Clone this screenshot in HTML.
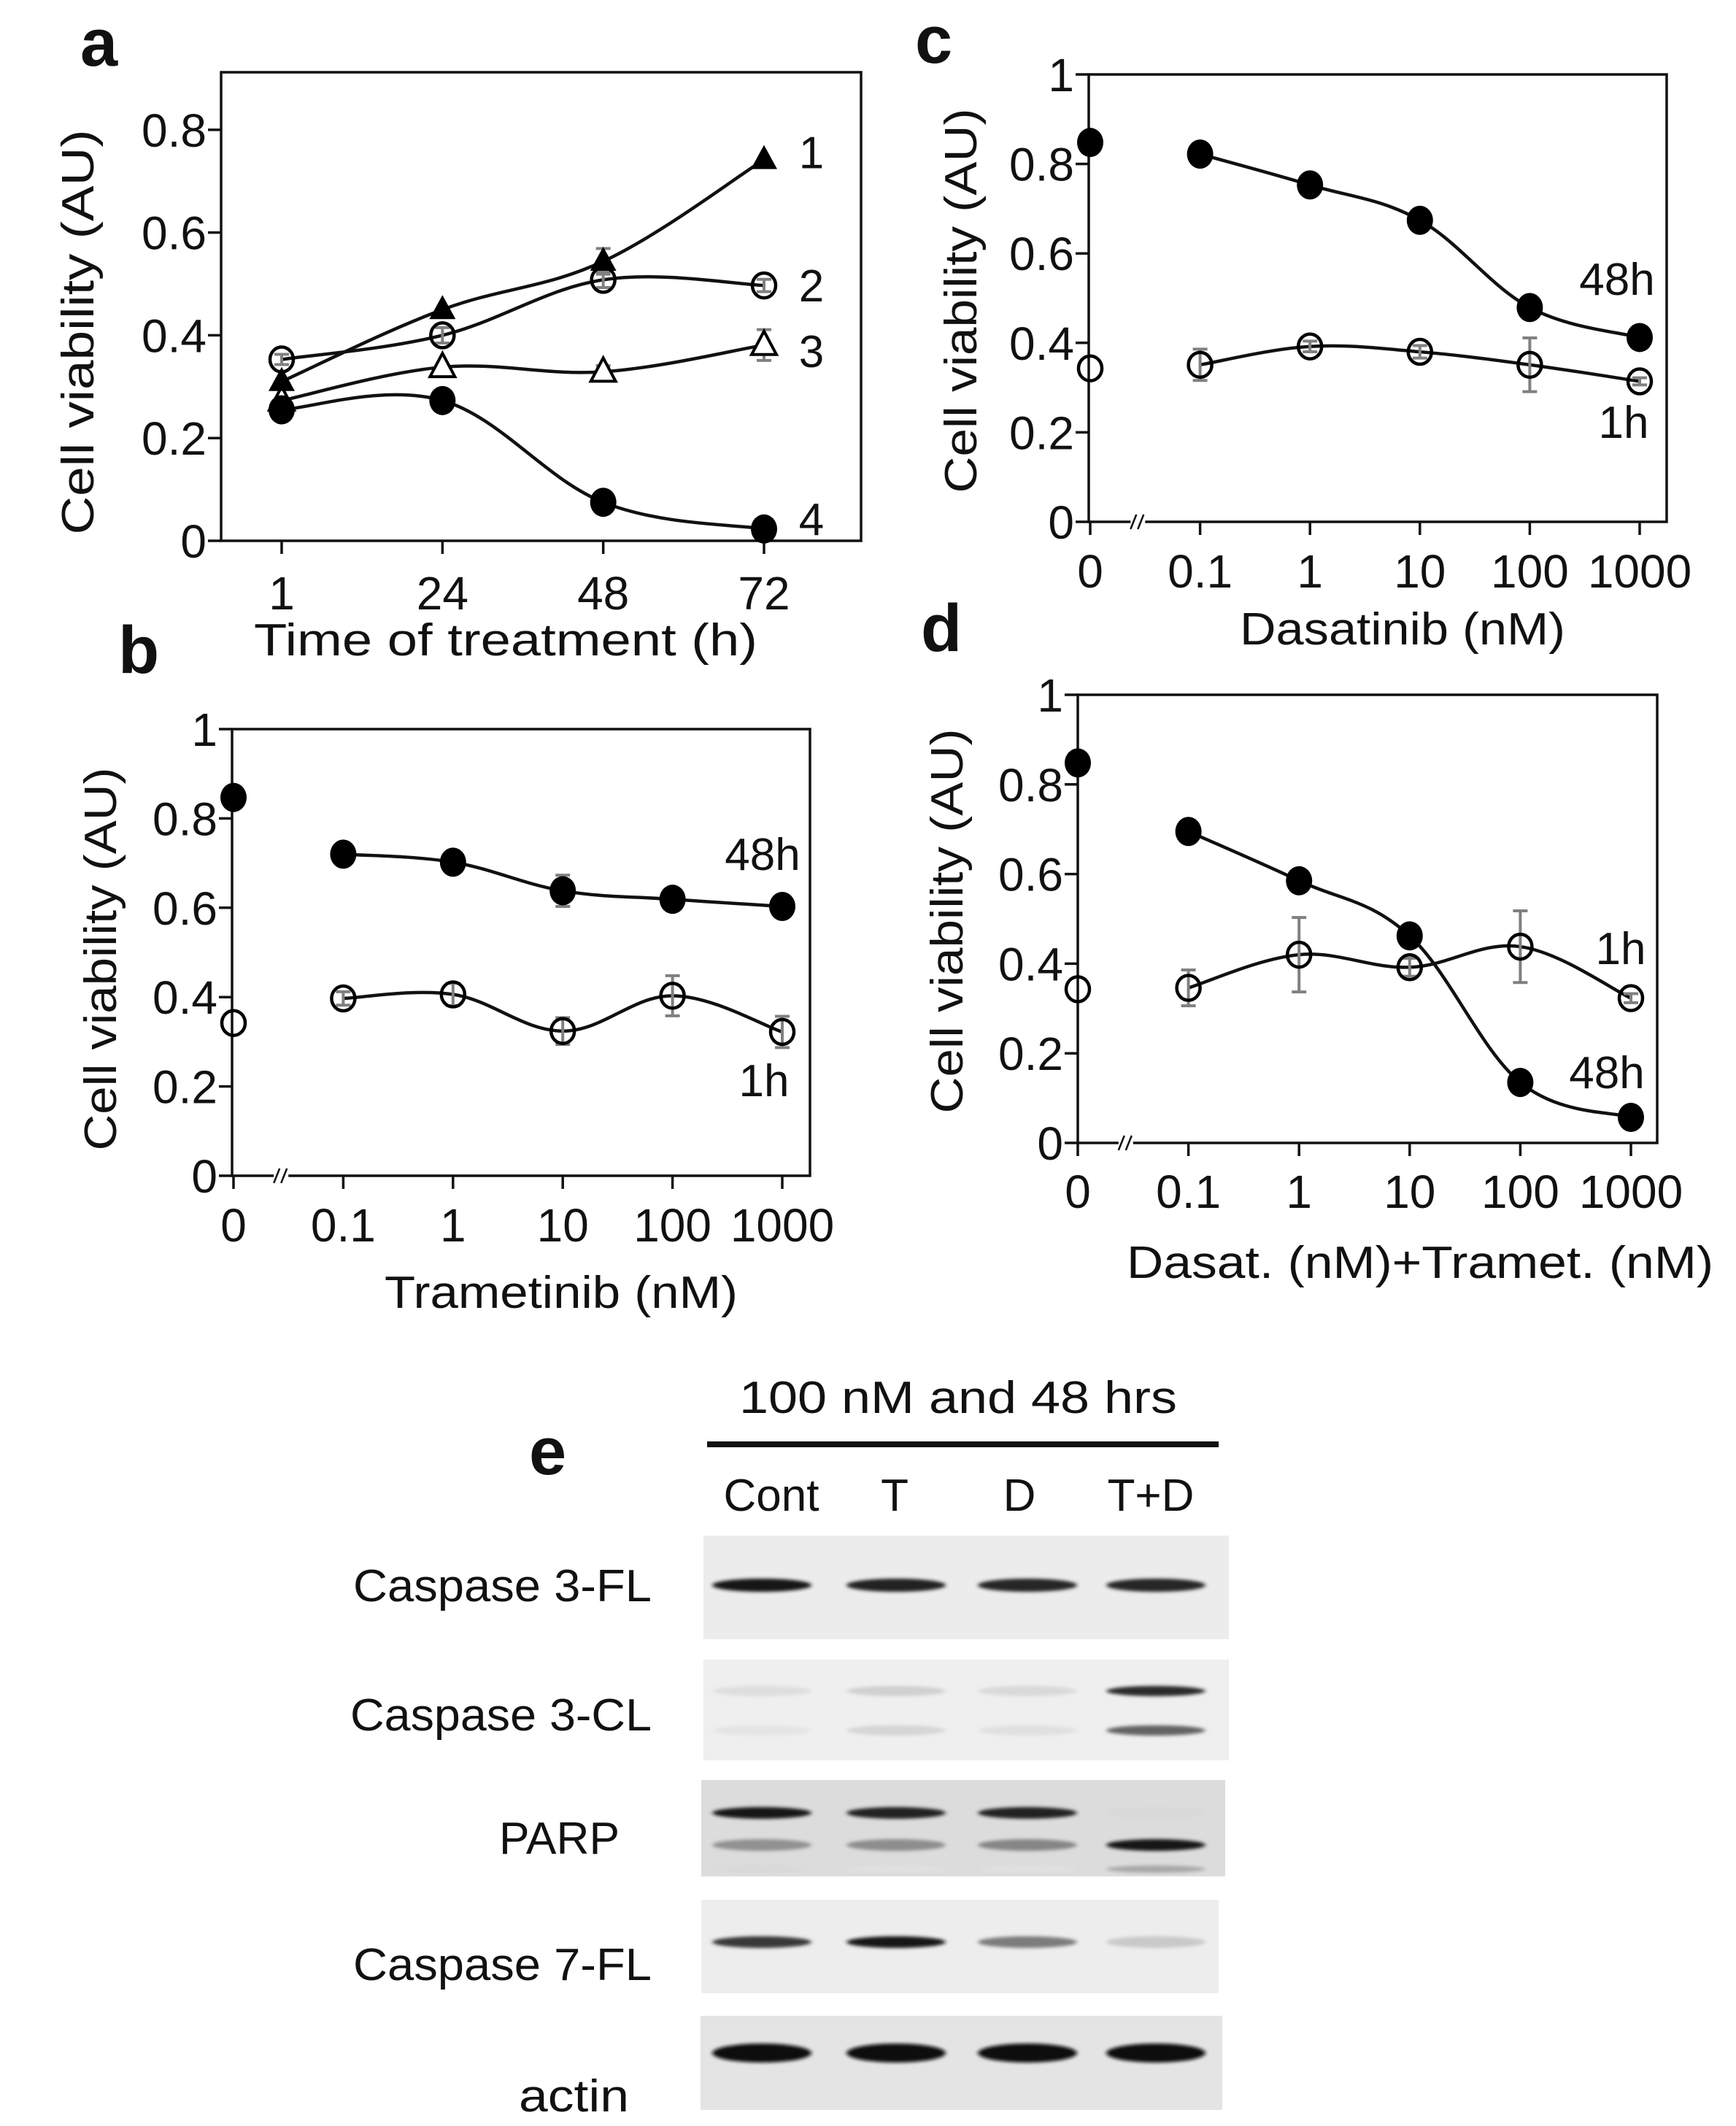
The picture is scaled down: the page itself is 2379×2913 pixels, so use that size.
<!DOCTYPE html>
<html><head><meta charset="utf-8">
<style>
html,body{margin:0;padding:0;background:#fff;}
svg{display:block;}
text{font-family:"Liberation Sans",sans-serif;fill:#111;}
</style></head>
<body>
<svg id="fig" width="2379" height="2913" viewBox="0 0 2379 2913" xmlns="http://www.w3.org/2000/svg">
<defs>
<filter id="blur" x="-20%" y="-200%" width="140%" height="500%"><feGaussianBlur stdDeviation="3 2.5"/></filter>
</defs>
<g id="root"></g>
</svg>
<script>
// ---------- Panel a data ----------
const aCategories = ['1','24','48','72'];
const aSeries1 = [0.31, 0.45, 0.544, 0.742];
const aSeries2 = [0.353, 0.40, 0.508, 0.497];
const aSeries3 = [0.273, 0.338, 0.329, 0.381];
const aSeries4 = [0.255, 0.273, 0.075, 0.023];
const aSeriesLabels = ['1','2','3','4'];
const aYTicks = [0, 0.2, 0.4, 0.6, 0.8];
const aYTickLabels = ['0','0.2','0.4','0.6','0.8'];
// ---------- Dose categories (b, c, d) ----------
const doseCategories = ['0','0.1','1','10','100','1000'];
const yTicks01 = [0, 0.2, 0.4, 0.6, 0.8, 1];
const yTickLabels01 = ['0','0.2','0.4','0.6','0.8','1'];
// ---------- Panel b (Trametinib) ----------
const b48h = [0.847, 0.720, 0.702, 0.638, 0.619, 0.603];
const b1h = [0.342, 0.397, 0.406, 0.324, 0.403, 0.322];
const b1hErr = [0, 0.015, 0.025, 0.03, 0.045, 0.035];
const b48hErr = [0, 0, 0, 0.035, 0, 0];
// ---------- Panel c (Dasatinib) ----------
const c48h = [0.848, 0.822, 0.753, 0.674, 0.479, 0.412];
const c1h = [0.343, 0.351, 0.392, 0.380, 0.351, 0.314];
const c1hErr = [0, 0.035, 0.012, 0.014, 0.06, 0.008];
// ---------- Panel d (Dasat.+Tramet.) ----------
const d48h = [0.848, 0.695, 0.585, 0.462, 0.135, 0.057];
const d1h = [0.343, 0.346, 0.420, 0.392, 0.438, 0.323];
const d1hErr = [0, 0.04, 0.083, 0.02, 0.08, 0.01];
// ---------- Panel e (western blot) ----------
const laneLabels = ['Cont','T','D','T+D'];
const blotNames = ['Caspase 3-FL','Caspase 3-CL','PARP','Caspase 7-FL','actin'];
const casp3FL = [0.95, 0.9, 0.88, 0.88];
const casp3CLupper = [0.06, 0.12, 0.08, 0.85];
const casp3CLlower = [0.03, 0.1, 0.05, 0.6];
const parpUpper = [0.95, 0.9, 0.9, 0.08];
const parpLower = [0.4, 0.42, 0.45, 0.95];
const parpBottom = [0.08, 0.05, 0.05, 0.3];
const casp7FL = [0.8, 0.95, 0.5, 0.15];
const actin = [1, 1, 1, 1];

const NS='http://www.w3.org/2000/svg';
const root=document.getElementById('root');
function mk(tag,attrs,parent){const e=document.createElementNS(NS,tag);for(const k in attrs)e.setAttribute(k,attrs[k]);(parent||root).appendChild(e);return e;}
function txt(s,attrs,parent){const e=mk('text',attrs,parent);e.textContent=s;return e;}

function smoothPath(pts){
  let d='M'+pts[0][0]+','+pts[0][1];
  for(let i=0;i<pts.length-1;i++){
    const p0=pts[i-1]||pts[i],p1=pts[i],p2=pts[i+1],p3=pts[i+2]||p2;
    const t=0.18;
    const c1=[p1[0]+(p2[0]-p0[0])*t,p1[1]+(p2[1]-p0[1])*t];
    const c2=[p2[0]-(p3[0]-p1[0])*t,p2[1]-(p3[1]-p1[1])*t];
    d+=' C'+c1[0]+','+c1[1]+' '+c2[0]+','+c2[1]+' '+p2[0]+','+p2[1];
  }
  return d;
}

const TICKFS=64;
function makeAxes(P,name){
  const g=mk('g',{});
  
  
  const box=mk('rect',{x:P.left,y:P.top,width:P.right-P.left,height:P.bottom-P.top,fill:'none',stroke:'#111','stroke-width':3.5},g);
  
  
  P.yTicks.forEach((v,i)=>{
    const y=P.y(v);
    mk('line',{x1:P.left-18,y1:y,x2:P.left,y2:y,stroke:'#111','stroke-width':3.5},g);
    const t=txt(P.yTickLabels[i],{x:P.left-20,y:y+23,'font-size':TICKFS,'text-anchor':'end'},g);
    
    
  });
  P.cats.forEach((c,i)=>{
    const x=P.x(i);
    mk('line',{x1:x,y1:P.bottom,x2:x,y2:P.bottom+18,stroke:'#111','stroke-width':3.5},g);
    const t=txt(c,{x:x,y:P.tickLabelY+23,'font-size':TICKFS,'text-anchor':'middle'},g);
    
    
  });
  if(P.brk){
    const bx=(P.x(0)+P.x(1))/2-12;
    mk('rect',{x:bx-8,y:P.bottom-6,width:20,height:12,fill:'#fff'},g);
    mk('line',{x1:bx-8,y1:P.bottom+10,x2:bx,y2:P.bottom-10,stroke:'#111','stroke-width':2.5},g);
    mk('line',{x1:bx+2,y1:P.bottom+10,x2:bx+10,y2:P.bottom-10,stroke:'#111','stroke-width':2.5},g);
  }
  const yt=txt('Cell viability (AU)',{x:0,y:0,'font-size':62,'text-anchor':'middle',textLength:P.yTitleLen,lengthAdjust:'spacingAndGlyphs',transform:`translate(${P.yTitleX+22},${P.yTitleY}) rotate(-90)`},g);
  
  
  const xt=txt(P.xTitle,{x:P.xTitleX,y:P.xTitleY+22,'font-size':62,'text-anchor':'middle',textLength:P.xTitleLen,lengthAdjust:'spacingAndGlyphs'},g);
  
  
  const pl=txt(P.letter,{x:P.letterX,y:P.letterY,'font-size':92,'font-weight':'bold'},g);
  
  
  return g;
}

function drawLine(P,vals,start,name){
  const pts=[];for(let i=start;i<vals.length;i++)pts.push([P.x(i),P.y(vals[i])]);
  const p=mk('path',{d:smoothPath(pts),fill:'none',stroke:'#111','stroke-width':4.5});
  
  
}
function drawErr(P,vals,errs,name){
  vals.forEach((v,i)=>{ if(!errs[i])return;
    const x=P.x(i),y1=P.y(v+errs[i]),y2=P.y(v-errs[i]);
    const g=mk('g',{stroke:'#808080','stroke-width':4});
    
    
    mk('line',{x1:x,y1:y1,x2:x,y2:y2},g);
    mk('line',{x1:x-10,y1:y1,x2:x+10,y2:y1},g);
    mk('line',{x1:x-10,y1:y2,x2:x+10,y2:y2},g);
  });
}
function drawMarkers(P,vals,type,name){
  vals.forEach((v,i)=>{
    const x=P.x(i),y=P.y(v);let m;
    if(type==='filled') m=mk('ellipse',{cx:x,cy:y,rx:18,ry:20,fill:'#000'});
    else if(type==='open') m=mk('ellipse',{cx:x,cy:y,rx:16,ry:17,fill:'none',stroke:'#000','stroke-width':4.5});
    else if(type==='tri') m=mk('polygon',{points:`${x},${y-20} ${x-18},${y+13} ${x+18},${y+13}`,fill:'#000'});
    else m=mk('polygon',{points:`${x},${y-19} ${x-17},${y+13} ${x+17},${y+13}`,fill:'#fff',stroke:'#000','stroke-width':4});
    
    
  });
}
function seriesLabel(s,x,y,name){
  const t=txt(s,{x:x,y:y+22,'font-size':62,'text-anchor':'middle'});
  
  
}

// ---------- Panel a ----------
const PA={left:303,right:1180,top:99,bottom:741,ymin:0,ymax:0.912,cats:aCategories,
  yTicks:aYTicks,yTickLabels:aYTickLabels,tickLabelY:812,xTitle:'Time of treatment (h)',xTitleX:693,xTitleY:876,xTitleLen:690,
  yTitleX:106,yTitleY:455,yTitleLen:555,letter:'a',letterX:110,letterY:90};
PA.x=i=>386+i*(1047-386)/3;
PA.y=v=>PA.bottom-(v-PA.ymin)/(PA.ymax-PA.ymin)*(PA.bottom-PA.top);
makeAxes(PA,'panel-a');
drawLine(PA,aSeries1,0,'panel-a-line-1');
drawLine(PA,aSeries2,0,'panel-a-line-2');
drawLine(PA,aSeries3,0,'panel-a-line-3');
drawLine(PA,aSeries4,0,'panel-a-line-4');
drawErr(PA,aSeries3,[0,0,0.012,0.03],'panel-a-errorbar-3');
drawErr(PA,aSeries2,[0.01,0.015,0.015,0.012],'panel-a-errorbar-2');
drawErr(PA,aSeries1,[0,0,0.025,0],'panel-a-errorbar-1');
drawMarkers(PA,aSeries3,'otri','panel-a-marker-3');
drawMarkers(PA,aSeries4,'filled','panel-a-marker-4');
drawMarkers(PA,aSeries2,'open','panel-a-marker-2');
drawMarkers(PA,aSeries1,'tri','panel-a-marker-1');
[aSeries1,aSeries2,aSeries3,aSeries4].forEach((s,k)=>{
  const yy=[PA.y(s[3])-10,PA.y(s[3]),PA.y(s[3])+8,PA.y(s[3])-14][k];
  seriesLabel(aSeriesLabels[k],1112,yy,'panel-a-series-label-'+aSeriesLabels[k]);
});

function dosePanel(P){
  P.ymin=0;P.ymax=1;P.cats=doseCategories;P.yTicks=yTicks01;P.yTickLabels=yTickLabels01;P.brk=true;
  P.x=i=>P.x0+i*P.step;
  P.y=v=>P.bottom-(v-P.ymin)/(P.ymax-P.ymin)*(P.bottom-P.top);
  return P;
}
// ---------- Panel b ----------
const PB=dosePanel({left:318,right:1110,top:999,bottom:1611,x0:320,step:150.4,tickLabelY:1678,xTitle:'Trametinib  (nM)',
  xTitleX:769,xTitleY:1770,xTitleLen:484,yTitleX:137,yTitleY:1314,yTitleLen:525,letter:'b',letterX:162,letterY:922});
makeAxes(PB,'panel-b');
drawLine(PB,b48h,1,'panel-b-line-48h');
drawLine(PB,b1h,1,'panel-b-line-1h');
drawErr(PB,b1h,b1hErr,'panel-b-errorbar-1h');
drawErr(PB,b48h,b48hErr,'panel-b-errorbar-48h');
drawMarkers(PB,b48h,'filled','panel-b-marker-48h');
drawMarkers(PB,b1h,'open','panel-b-marker-1h');
seriesLabel('48h',1045,1170,'panel-b-label-48h');
seriesLabel('1h',1047,1480,'panel-b-label-1h');

// ---------- Panel c ----------
const PC=dosePanel({left:1492,right:2284,top:102,bottom:715,x0:1494,step:150.6,tickLabelY:782,xTitle:'Dasatinib  (nM)',
  xTitleX:1922,xTitleY:861,xTitleLen:446,yTitleX:1316,yTitleY:412,yTitleLen:527,letter:'c',letterX:1254,letterY:86});
makeAxes(PC,'panel-c');
drawLine(PC,c48h,1,'panel-c-line-48h');
drawLine(PC,c1h,1,'panel-c-line-1h');
drawErr(PC,c1h,c1hErr,'panel-c-errorbar-1h');
drawMarkers(PC,c48h,'filled','panel-c-marker-48h');
drawMarkers(PC,c1h,'open','panel-c-marker-1h');
seriesLabel('48h',2216,382,'panel-c-label-48h');
seriesLabel('1h',2225,578,'panel-c-label-1h');

// ---------- Panel d ----------
const PD=dosePanel({left:1477,right:2271,top:952,bottom:1566,x0:1477,step:151.6,tickLabelY:1632,xTitle:'Dasat. (nM)+Tramet. (nM)',
  xTitleX:1946,xTitleY:1729,xTitleLen:804,yTitleX:1297,yTitleY:1262,yTitleLen:527,letter:'d',letterX:1262,letterY:892});
makeAxes(PD,'panel-d');
drawLine(PD,d48h,1,'panel-d-line-48h');
drawLine(PD,d1h,1,'panel-d-line-1h');
drawErr(PD,d1h,d1hErr,'panel-d-errorbar-1h');
drawMarkers(PD,d48h,'filled','panel-d-marker-48h');
drawMarkers(PD,d1h,'open','panel-d-marker-1h');
seriesLabel('1h',2221,1299,'panel-d-label-1h');
seriesLabel('48h',2202,1469,'panel-d-label-48h');

// ---------- Panel e ----------
const eg=mk('g',{});


const eL=txt('e',{x:725,y:2020,'font-size':92,'font-weight':'bold'},eg);


const cond=txt('100 nM and 48 hrs',{x:1313,y:1936,'font-size':62,'text-anchor':'middle',textLength:600,lengthAdjust:'spacingAndGlyphs'},eg);


const bar=mk('rect',{x:969,y:1975,width:701,height:8,fill:'#111'},eg);


const laneX=[1044,1228,1408,1584];
const laneLabelX=[1057,1226,1397,1577];
laneLabels.forEach((s,i)=>{
  const t=txt(s,{x:laneLabelX[i],y:2070,'font-size':62,'text-anchor':'middle'},eg);
  
  
});
const blots=[
  {x:964,y:2104,w:720,h:142,bg:'#ececec',labelX:893,labelY:2172,bands:[[casp3FL,2172,9]]},
  {x:964,y:2274,w:720,h:138,bg:'#efefef',labelX:893,labelY:2349,bands:[[casp3CLupper,2317,7],[casp3CLlower,2371,7]]},
  {x:961,y:2439,w:718,h:132,bg:'#dcdcdc',labelX:849,labelY:2518,bands:[[parpUpper,2484,8],[parpLower,2528,8],[parpBottom,2561,5]]},
  {x:961,y:2603,w:709,h:128,bg:'#ededed',labelX:893,labelY:2691,bands:[[casp7FL,2661,8]]},
  {x:960,y:2762,w:715,h:129,bg:'#e4e4e4',labelX:862,labelY:2871,bands:[[actin,2813,13]]}
];
const labelLens=[409,413,165,409,151];
blots.forEach((b,k)=>{
  const r=mk('rect',{x:b.x,y:b.y,width:b.w,height:b.h,fill:b.bg},eg);
  
  
  b.bands.forEach(([vals,cy,ry])=>{
    vals.forEach((v,i)=>{
      const shade=Math.round(235-v*225);
      const e=mk('ellipse',{cx:laneX[i],cy:cy,rx:68,ry:ry,fill:`rgb(${shade},${shade},${shade})`,filter:'url(#blur)'},eg);
      
      
    });
  });
  const t=txt(blotNames[k],{x:b.labelX,y:b.labelY+22,'font-size':62,'text-anchor':'end',textLength:labelLens[k],lengthAdjust:'spacingAndGlyphs'},eg);
  
  
});
</script>
</body></html>
